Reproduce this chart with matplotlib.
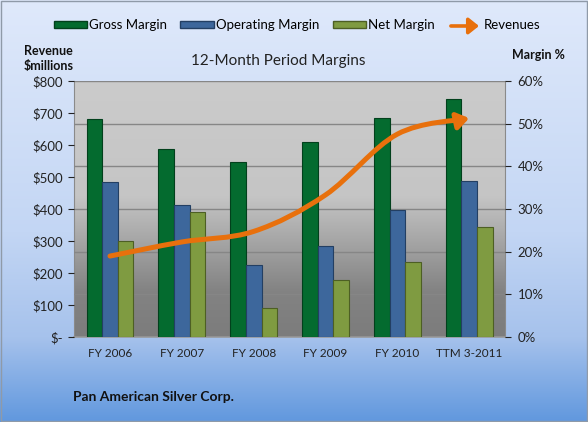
import numpy as np
import matplotlib
matplotlib.use("Agg")
import matplotlib.pyplot as plt
from matplotlib.colors import LinearSegmentedColormap
from matplotlib.patches import Patch, FancyArrowPatch, Rectangle
from matplotlib.path import Path
from matplotlib.legend_handler import HandlerPatch
from matplotlib.ticker import FuncFormatter, PercentFormatter

plt.rcParams['font.family'] = ['Lato', 'DejaVu Sans']

# data
periods = ["FY 2006", "FY 2007", "FY 2008", "FY 2009", "FY 2010", "TTM 3-2011"]
gross_margin = [51.1, 44.1, 41.1, 45.8, 51.4, 55.9]
operating_margin = [36.4, 30.9, 16.8, 21.3, 29.8, 36.5]
net_margin = [22.4, 29.4, 6.9, 13.3, 17.6, 25.9]
revenues = [253, 297, 330, 444, 634, 684]

rev_ticks = [0, 100, 200, 300, 400, 500, 600, 700, 800]

c_gross = "#046b2f"
c_oper = "#3d679c"
c_net = "#7f9b41"
c_rev = "#e8700c"

fig = plt.figure(figsize=(5.88, 4.22), dpi=100)

# figure background gradient (light blue -> stronger blue at bottom)
bg = fig.add_axes([0, 0, 1, 1], zorder=-10)
bg_cmap = LinearSegmentedColormap.from_list(
    "bg", [(0, "#dfe9fb"), (0.55, "#c3d6f4"), (0.8, "#a6c2ec"), (1, "#6198de")])
bg.imshow(np.linspace(0, 1, 256).reshape(-1, 1), aspect="auto", cmap=bg_cmap,
          extent=[0, 1, 0, 1])
bg.set_axis_off()
fig.patches.append(Rectangle((0.002, 0.002), 0.996, 0.995, transform=fig.transFigure,
                             fill=False, edgecolor="#8f9aa8", lw=1.0))

ax = fig.add_axes([0.126, 0.2014, 0.733, 0.6066])
ax.set_xlim(-0.5, 5.5)
ax.set_ylim(0, 60)

# plot area gradient (gray)
plot_cmap = LinearSegmentedColormap.from_list(
    "pa", [(0, "#7c7c7c"), (0.18, "#838383"), (0.55, "#c5c5c5"), (1, "#cbcbcb")])
ax.imshow(np.linspace(0, 1, 256).reshape(-1, 1), aspect="auto", cmap=plot_cmap,
          extent=[-0.5, 5.5, 0, 60], origin="lower", zorder=0)

x = np.arange(len(periods))
w = 0.218
ax.bar(x - w, gross_margin, w, color=c_gross, edgecolor="#02401c", lw=0.8, zorder=3)
ax.bar(x, operating_margin, w, color=c_oper, edgecolor="#233f63", lw=0.8, zorder=3)
ax.bar(x + w, net_margin, w, color=c_net, edgecolor="#4d5f24", lw=0.8, zorder=3)

ax.grid(axis="y", color="#868686", lw=1.0, zorder=1)
ax.set_axisbelow(False)
ax.set_xticks(x)
ax.set_xticklabels(periods)

# revenue axis (left)
ax2 = ax.twinx()
ax2.set_ylim(0, 800)
ax2.yaxis.tick_left()
ax2.set_yticks(rev_ticks)
ax2.yaxis.set_major_formatter(FuncFormatter(lambda v, p: "$-" if v == 0 else "${:.0f}".format(v)))
ax2.tick_params(axis="y", length=4, pad=4, labelsize=9.5, colors="#222222")
for s in ax2.spines.values():
    s.set_visible(False)

# margin axis (right)
ax.yaxis.tick_right()
ax.set_yticks(np.arange(0, 61, 10))
ax.yaxis.set_major_formatter(PercentFormatter(decimals=0))
ax.tick_params(axis="x", length=0, pad=8, labelsize=8.5, colors="#222222")
ax.tick_params(axis="y", length=4, pad=5, labelsize=9.5, colors="#222222")
ax.spines["top"].set_visible(False)
ax.spines["left"].set_color("#8a8a8a")
ax.spines["right"].set_color("#8a8a8a")
ax.spines["bottom"].set_color("#9a9a9a")
ax.spines["bottom"].set_linewidth(1.2)

# smoothed revenue curve (Catmull-Rom -> cubic bezier)
pts = np.column_stack([x, revenues]).astype(float)
ext = np.vstack([pts[0], pts, pts[-1]])
verts = [tuple(pts[0])]
codes = [Path.MOVETO]
for i in range(len(pts) - 1):
    p0, p1, p2, p3 = ext[i], ext[i + 1], ext[i + 2], ext[i + 3]
    c1 = p1 + (p2 - p0) / 6.0
    c2 = p2 - (p3 - p1) / 6.0
    verts += [tuple(c1), tuple(c2), tuple(p2)]
    codes += [Path.CURVE4] * 3
rev_path = Path(verts, codes)
arrow = FancyArrowPatch(path=rev_path, transform=ax2.transData,
                        arrowstyle="-|>,head_length=0.5,head_width=0.35",
                        mutation_scale=14, color=c_rev, lw=3.6,
                        capstyle="round", joinstyle="round", zorder=5)
ax2.add_patch(arrow)


class ArrowHandler(HandlerPatch):
    def create_artists(self, legend, orig_handle, xdescent, ydescent, width, height, fontsize, trans):
        a = FancyArrowPatch((-xdescent, height / 2), (width - xdescent, height / 2),
                            arrowstyle="-|>,head_length=0.5,head_width=0.4",
                            mutation_scale=12, color=c_rev, lw=2.6, transform=trans)
        return [a]


handles = [Patch(facecolor=c_gross, edgecolor="#02401c"),
           Patch(facecolor=c_oper, edgecolor="#233f63"),
           Patch(facecolor=c_net, edgecolor="#4d5f24"),
           Patch(facecolor=c_rev)]
labels = ["Gross Margin", "Operating Margin", "Net Margin", "Revenues"]
fig.legend(handles, labels, loc="center", bbox_to_anchor=(0.505, 0.94), ncol=4,
           frameon=False, fontsize=9.5, handlelength=2.55, handleheight=0.4,
           handletextpad=0.15, columnspacing=1.0,
           handler_map={handles[3]: ArrowHandler()})

fig.text(0.473, 0.855, "12-Month Period Margins", ha="center", va="center", fontsize=11, color="#222222")
fig.text(0.083, 0.862, "Revenue\n$millions", ha="center", va="center", fontsize=9,
         fontweight="bold", linespacing=1.3, color="#111111")
fig.text(0.916, 0.87, "Margin %", ha="center", va="center", fontsize=9,
         fontweight="bold", color="#111111")
fig.text(0.124, 0.06, "Pan American Silver Corp.", ha="left", va="center", fontsize=10,
         fontweight="bold", color="#111111")

fig.savefig("out.png", dpi=100)
